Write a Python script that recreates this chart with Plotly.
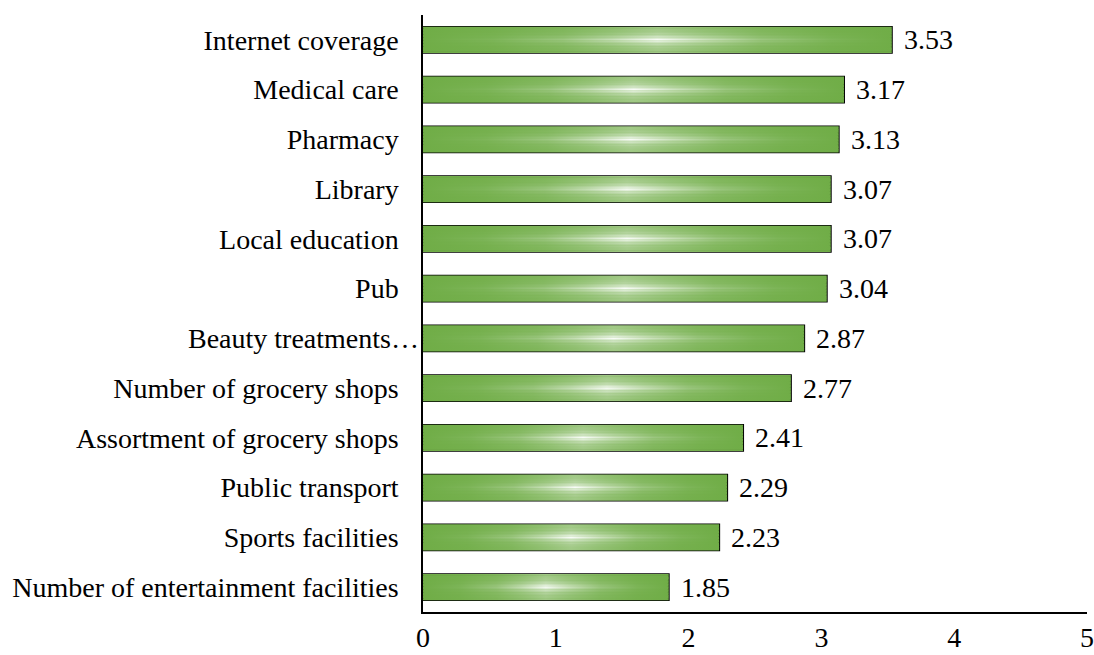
import plotly.graph_objects as go

# Services, listed top to bottom, with their mean ratings
categories = [
    "Internet coverage",
    "Medical care",
    "Pharmacy",
    "Library",
    "Local education",
    "Pub",
    "Beauty treatments…",
    "Number of grocery shops",
    "Assortment of grocery shops",
    "Public transport",
    "Sports facilities",
    "Number of entertainment facilities",
]
values = [3.53, 3.17, 3.13, 3.07, 3.07, 3.04, 2.87, 2.77, 2.41, 2.29, 2.23, 1.85]
x_ticks = [0, 1, 2, 3, 4, 5]

# this label is long and runs up to the axis line
LONG_LABEL = "Beauty treatments…"

FONT = "Liberation Serif, Times New Roman, serif"
FSIZE = 28
GREEN = (112, 173, 71)
BAR_W = 0.52
positions = list(range(len(categories)))


def mix(t):
    """Blend the bar green toward white by fraction t."""
    t = max(0.0, min(1.0, t))
    r, g, b = (round(c + (255 - c) * t) for c in GREEN)
    return f"rgb({r},{g},{b})"


fig = go.Figure()

# solid green body of every bar
fig.add_trace(go.Bar(
    x=values, y=positions, orientation="h", width=BAR_W,
    marker=dict(color=mix(0), line=dict(width=0)),
    hoverinfo="skip", showlegend=False,
))

# glossy highlight: thin horizontal strips, each with a left-right gradient
N_STRIPS = 17
half = BAR_W / 2
h_profile = [(0.0, 0.0), (0.15, 0.1), (0.3, 0.32), (0.4, 0.62),
             (0.5, 1.0), (0.6, 0.66), (0.72, 0.32), (0.87, 0.1), (1.0, 0.0)]
for v, yc in zip(values, positions):
    for k in range(N_STRIPS):
        y0 = yc - half + k * 2 * half / N_STRIPS
        y1 = y0 + 2 * half / N_STRIPS
        d = abs((y0 + y1) / 2 - yc) / half
        t = 0.34 + 0.62 * max(0.0, 1 - d) ** 2.5
        pad = 0.003
        fig.add_trace(go.Scatter(
            x=[0, v, v, 0, 0],
            y=[y0 - pad, y0 - pad, y1 + pad, y1 + pad, y0 - pad],
            mode="lines", fill="toself", line=dict(width=0),
            fillgradient=dict(
                type="horizontal",
                colorscale=[[p, mix(a * t)] for p, a in h_profile],
            ),
            hoverinfo="skip", showlegend=False,
        ))

# black outline on top
fig.add_trace(go.Bar(
    x=values, y=positions, orientation="h", width=BAR_W,
    marker=dict(color="rgba(0,0,0,0)", line=dict(color="black", width=2)),
    hoverinfo="skip", showlegend=False,
))

# value labels to the right of each bar
for v, yc in zip(values, positions):
    fig.add_annotation(
        x=v, y=yc, text=f"{v:.2f}", showarrow=False,
        xanchor="left", yanchor="middle", xshift=10,
        font=dict(family=FONT, size=FSIZE, color="black"),
    )

# the long category label sits right against the axis
fig.add_annotation(
    x=0, y=categories.index(LONG_LABEL), xref="x", yref="y",
    text=LONG_LABEL, showarrow=False, xanchor="right", yanchor="middle",
    xshift=-2, font=dict(family=FONT, size=FSIZE, color="black"),
)
tick_text = ["" if c == LONG_LABEL else c for c in categories]

fig.update_layout(
    width=1094, height=655,
    margin=dict(l=423, r=7, t=15, b=43),
    paper_bgcolor="white", plot_bgcolor="white",
    barmode="overlay",
    font=dict(family=FONT, size=FSIZE, color="black"),
    showlegend=False,
)
fig.update_xaxes(
    range=[0, 5], tickvals=x_ticks, ticktext=[str(t) for t in x_ticks],
    showgrid=False, zeroline=False,
    showline=True, linecolor="black", linewidth=1.5,
    ticks="outside", ticklen=0, tickcolor="rgba(0,0,0,0)",
    automargin=False, fixedrange=True,
)
fig.update_yaxes(
    range=[len(categories) - 0.5, -0.5],
    tickvals=positions, ticktext=tick_text,
    showgrid=False, zeroline=False,
    showline=True, linecolor="black", linewidth=1.5,
    ticks="outside", ticklen=17, tickcolor="rgba(0,0,0,0)",
    automargin=False, fixedrange=True,
)

fig.write_html("out.html", config={"displayModeBar": False})
